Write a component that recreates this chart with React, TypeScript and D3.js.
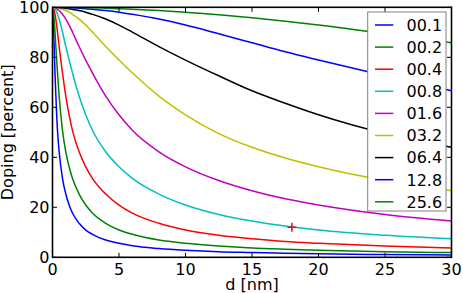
import React from "react";
import * as d3 from "d3";

const W = 463;
const H = 293;

// distance grid d [nm]
const D = [0, 0.05, 0.1, 0.15, 0.2, 0.3, 0.4, 0.5, 0.75, 1, 1.25, 1.5, 2, 2.5, 3, 4, 5, 6, 8, 10, 12.5, 15, 17.5, 20, 25, 30];

const labels = ["00.1", "00.2", "00.4", "00.8", "01.6", "03.2", "06.4", "12.8", "25.6"];
const colors = ["#0000ff", "#008000", "#ff0000", "#00bfbf", "#bf00bf", "#bfbf00", "#000000", "#0000ff", "#008000"];

const s001 = [100, 96.85, 89.0, 79.9, 71.8, 58.4, 48.7, 42.2, 31.6, 25.3, 20.9, 17.7, 13.6, 10.9, 9.2, 6.9, 5.6, 4.6, 3.5, 2.8, 2.2, 1.9, 1.6, 1.4, 1.1, 0.93];
const s002 = [100, 99.1, 96.85, 93.4, 89.0, 79.9, 71.8, 64.5, 50.8, 42.2, 36.2, 31.6, 25.3, 20.9, 17.7, 13.6, 10.9, 9.2, 6.9, 5.6, 4.5, 3.7, 3.2, 2.8, 2.2, 1.9];
const s004 = [100, 99.77, 99.1, 98.2, 96.85, 93.4, 89.0, 84.3, 73.8, 64.5, 57.0, 50.8, 42.2, 36.2, 31.6, 25.3, 20.9, 17.7, 13.6, 10.9, 8.8, 7.4, 6.3, 5.6, 4.5, 3.7];
const s008 = [100, 99.95, 99.77, 99.5, 99.1, 98.2, 96.85, 95.3, 90.1, 84.3, 78.9, 73.8, 64.5, 57.0, 50.8, 42.2, 36.2, 31.6, 25.3, 20.9, 17.1, 14.5, 12.5, 10.9, 8.8, 7.4];
const s016 = [100, 99.98, 99.95, 99.87, 99.77, 99.5, 99.1, 98.7, 97.2, 95.3, 92.9, 90.1, 84.3, 78.9, 73.8, 64.5, 57.0, 50.8, 42.2, 36.2, 30.7, 26.6, 23.4, 20.9, 17.1, 14.5];
const s032 = [100, 100, 99.98, 99.96, 99.95, 99.87, 99.77, 99.65, 99.2, 98.7, 98.05, 97.2, 95.3, 92.9, 90.1, 84.3, 78.9, 73.8, 64.5, 57.0, 49.5, 44.0, 39.7, 36.2, 30.7, 26.6];
const s064 = [100, 100, 100, 99.99, 99.98, 99.96, 99.95, 99.9, 99.8, 99.65, 99.45, 99.2, 98.7, 98.05, 97.2, 95.3, 92.9, 90.1, 84.3, 78.9, 72.6, 66.6, 61.6, 57.0, 49.5, 44.0];
const s128 = [100, 100, 100, 100, 100, 99.99, 99.98, 99.97, 99.94, 99.9, 99.85, 99.8, 99.65, 99.45, 99.2, 98.7, 98.05, 97.2, 95.3, 92.9, 89.4, 85.8, 82.2, 78.9, 72.6, 66.6];
const s256 = [100, 100, 100, 100, 100, 100, 100, 99.99, 99.98, 99.97, 99.96, 99.94, 99.9, 99.85, 99.8, 99.65, 99.45, 99.2, 98.7, 98.05, 97.0, 95.8, 94.4, 92.9, 89.4, 85.8];

const series = [s001, s002, s004, s008, s016, s032, s064, s128, s256];

const xTicks = [0, 5, 10, 15, 20, 25, 30];
const yTicks = [0, 20, 40, 60, 80, 100];

const marker = { d: 18, v: 12 };

export default function App() {
  const left = 52.5, right = 451.5, top = 7.3, bottom = 257.3;
  const x = d3.scaleLinear().domain([0, 30]).range([left, right]);
  const y = d3.scaleLinear().domain([0, 100]).range([bottom, top]);
  const line = d3
    .line<number>()
    .x((_, i) => x(D[i]))
    .y((v) => y(v))
    .curve(d3.curveMonotoneX);

  const font = "'DejaVu Sans', sans-serif";
  const tickLen = 4.5;
  const legX = 367.7, legY = 12, legW = 78.3, legH = 199;
  const rowY0 = 25, rowStep = 22.1;

  return (
    <svg width={W} height={H} style={{ position: "absolute", left: 0, top: 0, background: "#fff" }} fontFamily={font}>
      <defs>
        <clipPath id="plot">
          <rect x={left} y={top} width={right - left} height={bottom - top} />
        </clipPath>
      </defs>
      <rect x={0} y={0} width={W} height={H} fill="#fff" />
      <g clipPath="url(#plot)">
        {series.map((s, i) => (
          <path key={i} d={line(s) || ""} fill="none" stroke={colors[i]} strokeWidth={1.5} />
        ))}
      </g>
      <g stroke="#ff0000" strokeWidth={1.5}>
        <line x1={x(marker.d) - 4.5} x2={x(marker.d) + 4.5} y1={y(marker.v)} y2={y(marker.v)} />
        <line x1={x(marker.d)} x2={x(marker.d)} y1={y(marker.v) - 4.5} y2={y(marker.v) + 4.5} />
      </g>
      <g stroke="#000" strokeWidth={1}>
        {xTicks.map((t) => (
          <g key={"xt" + t}>
            <line x1={x(t)} x2={x(t)} y1={bottom} y2={bottom - tickLen} />
            <line x1={x(t)} x2={x(t)} y1={top} y2={top + tickLen} />
          </g>
        ))}
        {yTicks.map((t) => (
          <g key={"yt" + t}>
            <line x1={left} x2={left + tickLen} y1={y(t)} y2={y(t)} />
            <line x1={right} x2={right - tickLen} y1={y(t)} y2={y(t)} />
          </g>
        ))}
      </g>
      <rect x={legX} y={legY} width={legW} height={legH} fill="#fff" stroke="#808080" strokeWidth={1} />
      {labels.map((lb, i) => {
        const ry = rowY0 + i * rowStep;
        return (
          <g key={lb}>
            <line x1={375} x2={393.3} y1={ry} y2={ry} stroke={colors[i]} strokeWidth={1.5} />
            <text x={406.5} y={ry + 5.8} fontSize={16} fill="#000">
              {lb}
            </text>
          </g>
        );
      })}
      <rect x={left} y={top} width={right - left} height={bottom - top} fill="none" stroke="#000" strokeWidth={1.6} />
      {xTicks.map((t) => (
        <text key={"xl" + t} x={x(t)} y={275} fontSize={16} textAnchor="middle" fill="#000">
          {t}
        </text>
      ))}
      {yTicks.map((t) => (
        <text key={"yl" + t} x={49.5} y={y(t) + 5.8} fontSize={16} textAnchor="end" fill="#000">
          {t}
        </text>
      ))}
      <text x={(left + right) / 2} y={290} fontSize={16} textAnchor="middle" fill="#000">
        d [nm]
      </text>
      <text
        transform={`translate(13, ${(top + bottom) / 2}) rotate(-90)`}
        fontSize={16}
        textAnchor="middle"
        fill="#000"
      >
        Doping [percent]
      </text>
    </svg>
  );
}
